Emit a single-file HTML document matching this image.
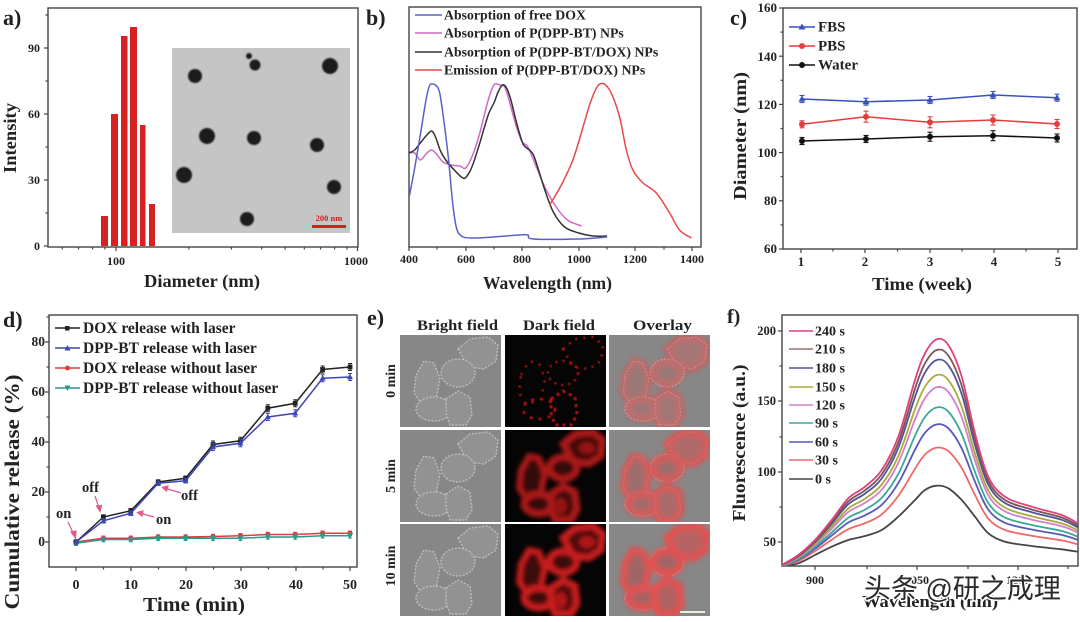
<!DOCTYPE html>
<html><head><meta charset="utf-8">
<style>
html,body{margin:0;padding:0;background:#fff;}
svg{display:block;}
text{font-family:"Liberation Serif",serif;font-weight:bold;fill:#222;}
</style></head><body>
<svg id="s" width="1080" height="622" viewBox="0 0 1080 622" xmlns="http://www.w3.org/2000/svg">
<defs>
<filter id="bl1" x="-20%" y="-20%" width="140%" height="140%"><feGaussianBlur stdDeviation="0.7"/></filter>
<filter id="bl2" x="-20%" y="-20%" width="140%" height="140%"><feGaussianBlur stdDeviation="2"/></filter>
<filter id="bl3" x="-20%" y="-20%" width="140%" height="140%"><feGaussianBlur stdDeviation="0.6"/></filter>
<clipPath id="cpB"><rect x="409" y="7" width="292" height="240"/></clipPath>
<clipPath id="cpF"><rect x="782" y="315" width="296" height="251"/></clipPath>
<clipPath id="cpImg"><rect x="0" y="0" width="101" height="92"/></clipPath>
<g id="cells" fill="#929292" stroke="#bdbdbd" stroke-width="1.4" stroke-dasharray="2 1.5">
  <polygon points="58,14 70,4 88,2 98,10 96,26 84,34 68,32"/>
  <ellipse cx="58" cy="38" rx="17" ry="14"/>
  <polygon points="16,40 24,26 34,28 40,44 36,64 22,70 14,58"/>
  <ellipse cx="34" cy="74" rx="18" ry="12"/>
  <polygon points="46,64 58,56 70,62 72,80 66,90 50,90 46,78"/>
</g>
<g id="redA" fill="none" stroke="#c41818" filter="url(#bl3)">
  <polygon points="58,14 70,4 88,2 98,10 96,26 84,34 68,32" stroke-width="2.5" stroke-dasharray="2 6"/>
  <ellipse cx="58" cy="38" rx="15" ry="12" stroke-width="2.5" stroke-dasharray="2 5"/>
  <polygon points="16,40 24,26 34,28 40,44 36,64 22,70 14,58" stroke-width="2.5" stroke-dasharray="2 7"/>
  <ellipse cx="34" cy="74" rx="16" ry="10" stroke-width="2.5" stroke-dasharray="3 6"/>
  <polygon points="46,64 58,56 70,62 72,80 66,90 50,90 46,78" stroke-width="3" stroke-dasharray="3 4"/>
</g>
<g id="redB" fill="none" stroke="#c81a1a" filter="url(#bl2)">
  <polygon points="58,14 70,4 88,2 98,10 96,26 84,34 68,32" stroke-width="7" fill="#4a0a0a"/>
  <ellipse cx="58" cy="38" rx="14" ry="11" stroke-width="7" fill="#3a0808"/>
  <polygon points="16,40 24,26 34,28 40,44 36,64 22,70 14,58" stroke-width="6" fill="#3a0808"/>
  <ellipse cx="34" cy="74" rx="15" ry="10" stroke-width="7" fill="#3a0808"/>
  <polygon points="46,64 58,56 70,62 72,80 66,90 50,90 46,78" stroke-width="7" fill="#4a0a0a"/>
  <ellipse cx="82" cy="18" rx="8" ry="6" fill="#b01818" stroke="none"/>
  <ellipse cx="56" cy="76" rx="6" ry="8" fill="#b01818" stroke="none"/>
</g>
<g id="redO" fill="none" stroke="#e25050" filter="url(#bl2)">
  <polygon points="58,14 70,4 88,2 98,10 96,26 84,34 68,32" stroke-width="8" fill="#b86060"/>
  <ellipse cx="58" cy="38" rx="14" ry="11" stroke-width="8" fill="#a06464"/>
  <polygon points="16,40 24,26 34,28 40,44 36,64 22,70 14,58" stroke-width="7" fill="#a06464"/>
  <ellipse cx="34" cy="74" rx="15" ry="10" stroke-width="8" fill="#a86060"/>
  <polygon points="46,64 58,56 70,62 72,80 66,90 50,90 46,78" stroke-width="8" fill="#b06060"/>
</g>
</defs>
<rect width="1080" height="622" fill="#fff"/>

<!-- ============ PANEL A ============ -->
<g id="pa">
  <rect x="172" y="48" width="178" height="185" fill="#c5c5c5"/>
  <g fill="#1c1c1c" filter="url(#bl1)">
    <circle cx="195" cy="76" r="7"/>
    <circle cx="255" cy="65" r="5.5"/>
    <circle cx="249" cy="56" r="3"/>
    <circle cx="330" cy="66" r="8"/>
    <circle cx="207" cy="136" r="8"/>
    <circle cx="254" cy="138" r="7"/>
    <circle cx="317" cy="145" r="7"/>
    <circle cx="184" cy="175" r="8"/>
    <circle cx="334" cy="187" r="7"/>
    <circle cx="247" cy="219" r="7"/>
  </g>
  <text x="329" y="221" font-size="8.5" text-anchor="middle" style="fill:#d42020">200 nm</text>
  <rect x="312" y="225" width="34" height="3" fill="#d42020"/>
  <g fill="#d42121">
    <rect x="101" y="216" width="7" height="30"/>
    <rect x="111" y="114" width="7" height="132"/>
    <rect x="121" y="36" width="6.5" height="210"/>
    <rect x="130" y="27" width="7" height="219"/>
    <rect x="140" y="125" width="5.5" height="121"/>
    <rect x="149" y="204" width="6" height="42"/>
  </g>
  <rect x="48" y="8" width="310" height="239" fill="none" stroke="#444" stroke-width="1.4"/>
  <text x="3" y="25" font-size="22">a)</text>
  <g font-size="12" text-anchor="end">
    <text x="40" y="250">0</text><text x="40" y="184">30</text><text x="40" y="118">60</text><text x="40" y="52">90</text>
  </g>
  <text x="116" y="265" font-size="12" text-anchor="middle">100</text>
  <text x="356" y="265" font-size="12" text-anchor="middle">1000</text>
  <text x="202" y="287" font-size="18" text-anchor="middle" textLength="116" lengthAdjust="spacingAndGlyphs">Diameter (nm)</text>
  <text transform="translate(16,138) rotate(-90)" font-size="18" text-anchor="middle" textLength="70" lengthAdjust="spacingAndGlyphs">Intensity</text>
</g>

<!-- ============ PANEL B ============ -->
<g id="pb">
  <rect x="409" y="7" width="292" height="240" fill="none" stroke="#444" stroke-width="1.4"/>
  <text x="366" y="25" font-size="22">b)</text>
  <g font-size="12" text-anchor="middle">
    <text x="409" y="263">400</text><text x="466" y="263">600</text><text x="522" y="263">800</text>
    <text x="579" y="263">1000</text><text x="635" y="263">1200</text><text x="692" y="263">1400</text>
  </g>
  <text x="547.5" y="289" font-size="18" text-anchor="middle" textLength="129" lengthAdjust="spacingAndGlyphs">Wavelength (nm)</text>
  <g stroke-width="1.6">
    <line x1="415" y1="15" x2="442" y2="15" stroke="#5a60c8"/>
    <line x1="415" y1="33" x2="442" y2="33" stroke="#d068c8"/>
    <line x1="415" y1="52" x2="442" y2="52" stroke="#333"/>
    <line x1="415" y1="70" x2="442" y2="70" stroke="#e84848"/>
  </g>
  <g font-size="13.8">
    <text x="444" y="19.5">Absorption of free DOX</text>
    <text x="444" y="37.5">Absorption of P(DPP-BT) NPs</text>
    <text x="444" y="56.5">Absorption of P(DPP-BT/DOX) NPs</text>
    <text x="444" y="74.5">Emission of P(DPP-BT/DOX) NPs</text>
  </g>
</g>

<!-- ============ PANEL C ============ -->
<g id="pc">
  <rect x="783" y="8" width="294" height="241" fill="none" stroke="#444" stroke-width="1.4"/>
  <text x="730" y="25" font-size="22">c)</text>
  <g font-size="13" text-anchor="end">
    <text x="777" y="12">160</text><text x="777" y="61">140</text><text x="777" y="109">120</text>
    <text x="777" y="157">100</text><text x="777" y="205">80</text><text x="777" y="253">60</text>
  </g>
  <g font-size="13" text-anchor="middle">
    <text x="801" y="266">1</text><text x="865" y="266">2</text><text x="930" y="266">3</text><text x="994" y="266">4</text><text x="1058" y="266">5</text>
  </g>
  <text x="922" y="290" font-size="18" text-anchor="middle" textLength="100" lengthAdjust="spacingAndGlyphs">Time (week)</text>
  <text transform="translate(746,136) rotate(-90)" font-size="18" text-anchor="middle" textLength="128" lengthAdjust="spacingAndGlyphs">Diameter (nm)</text>
  <line x1="789" y1="27" x2="815" y2="27" stroke="#3a50c0" stroke-width="1.5"/>
  <polygon points="802,23.5 805.5,29.5 798.5,29.5" fill="#3a50c0"/>
  <line x1="789" y1="46" x2="815" y2="46" stroke="#e83a3a" stroke-width="1.5"/>
  <circle cx="802" cy="46" r="3" fill="#e83a3a"/>
  <line x1="789" y1="65" x2="815" y2="65" stroke="#111" stroke-width="1.5"/>
  <circle cx="802" cy="65" r="3" fill="#111"/>
  <g font-size="15">
    <text x="818" y="31.5">FBS</text><text x="818" y="50.5">PBS</text><text x="818" y="69.5">Water</text>
  </g>
</g>

<!-- ============ PANEL D ============ -->
<g id="pd">
  <rect x="49" y="315" width="308" height="252" fill="none" stroke="#444" stroke-width="1.4"/>
  <text x="3" y="327" font-size="22">d)</text>
  <g font-size="13.5" text-anchor="end">
    <text x="45" y="546">0</text><text x="45" y="496">20</text><text x="45" y="446">40</text><text x="45" y="396">60</text><text x="45" y="346">80</text>
  </g>
  <g font-size="14" text-anchor="middle">
    <text x="76" y="589">0</text><text x="131" y="589">10</text><text x="186" y="589">20</text>
    <text x="241" y="589">30</text><text x="296" y="589">40</text><text x="350" y="589">50</text>
  </g>
  <text x="194" y="611" font-size="20" text-anchor="middle" textLength="102" lengthAdjust="spacingAndGlyphs">Time (min)</text>
  <text transform="translate(19,492) rotate(-90)" font-size="21" text-anchor="middle" textLength="235" lengthAdjust="spacingAndGlyphs">Cumulative release (%)</text>
  <g stroke-width="1.5">
    <line x1="55" y1="328" x2="80" y2="328" stroke="#222"/>
    <line x1="55" y1="348" x2="80" y2="348" stroke="#3c46b4"/>
    <line x1="55" y1="368" x2="80" y2="368" stroke="#e03c3c"/>
    <line x1="55" y1="388" x2="80" y2="388" stroke="#2a9a8a"/>
  </g>
  <rect x="65" y="326" width="4.5" height="4.5" fill="#222"/>
  <polygon points="67.5,345 70.5,350.5 64.5,350.5" fill="#3c46b4"/>
  <circle cx="67.5" cy="368" r="2.5" fill="#e03c3c"/>
  <polygon points="67.5,391 70.5,385.5 64.5,385.5" fill="#2a9a8a"/>
  <g font-size="15.5">
    <text x="83" y="333">DOX release with laser</text>
    <text x="83" y="353">DPP-BT release with laser</text>
    <text x="83" y="373">DOX release without laser</text>
    <text x="83" y="393">DPP-BT release without laser</text>
  </g>
  <g font-size="14.5">
    <text x="56" y="518">on</text>
    <text x="82" y="492">off</text>
    <text x="181" y="500">off</text>
    <text x="156" y="524">on</text>
  </g>
  <g stroke="#e05a8a" stroke-width="1.2" fill="#e05a8a">
    <line x1="68" y1="522" x2="74" y2="535"/><polygon points="75.5,538 71,532 76,531"/>
    <line x1="95" y1="496" x2="99" y2="508"/><polygon points="100,511.5 96.5,506 101.5,505.5"/>
    <line x1="181" y1="493" x2="166" y2="488.5"/><polygon points="162.5,487.5 168,486 166.5,491"/>
    <line x1="154" y1="517" x2="141" y2="513.5"/><polygon points="137.5,512.5 143,511 142,516"/>
  </g>
</g>

<!-- ============ PANEL E ============ -->
<g id="pe">
  <text x="367" y="325" font-size="22">e)</text>
  <g font-size="15" text-anchor="middle">
    <text x="457.5" y="330" textLength="81" lengthAdjust="spacingAndGlyphs">Bright field</text>
    <text x="559" y="330" textLength="72" lengthAdjust="spacingAndGlyphs">Dark field</text>
    <text x="662.5" y="330" textLength="59" lengthAdjust="spacingAndGlyphs">Overlay</text>
  </g>
  <g font-size="14" text-anchor="middle">
    <text transform="translate(395,381) rotate(-90)">0 min</text>
    <text transform="translate(395,476) rotate(-90)">5 min</text>
    <text transform="translate(395,566) rotate(-90)">10 min</text>
  </g>
  <!-- row 1 -->
  <g transform="translate(400,335)" clip-path="url(#cpImg)"><rect width="101" height="92" fill="#878787"/><use href="#cells"/></g>
  <g transform="translate(505,335)" clip-path="url(#cpImg)"><rect width="101" height="92" fill="#050505"/><use href="#redA" opacity="0.9"/></g>
  <g transform="translate(609,335)" clip-path="url(#cpImg)"><rect width="101" height="92" fill="#878787"/><use href="#cells"/><use href="#redO" opacity="0.55"/></g>
  <!-- row 2 -->
  <g transform="translate(400,430)" clip-path="url(#cpImg)"><rect width="101" height="92" fill="#878787"/><use href="#cells"/></g>
  <g transform="translate(505,430)" clip-path="url(#cpImg)"><rect width="101" height="92" fill="#050505"/><use href="#redB" opacity="0.85"/></g>
  <g transform="translate(609,430)" clip-path="url(#cpImg)"><rect width="101" height="92" fill="#878787"/><use href="#cells"/><use href="#redO" opacity="0.8"/></g>
  <!-- row 3 -->
  <g transform="translate(400,524)" clip-path="url(#cpImg)"><rect width="101" height="92" fill="#878787"/><use href="#cells"/></g>
  <g transform="translate(505,524)" clip-path="url(#cpImg)"><rect width="101" height="92" fill="#050505"/><use href="#redB" opacity="1"/></g>
  <g transform="translate(609,524)" clip-path="url(#cpImg)"><rect width="101" height="92" fill="#878787"/><use href="#cells"/><use href="#redO" opacity="0.95"/></g>
  <rect x="680" y="611" width="25" height="2" fill="#e8f0e0"/>
</g>

<!-- ============ PANEL F ============ -->
<g id="pf">
  <rect x="782" y="315" width="296" height="251" fill="none" stroke="#444" stroke-width="1.4"/>
  <text x="727" y="323" font-size="20">f)</text>
  <g font-size="12.5" text-anchor="end">
    <text x="776" y="546">50</text><text x="776" y="476">100</text><text x="776" y="405">150</text><text x="776" y="335">200</text>
  </g>
  <g font-size="12" text-anchor="middle">
    <text x="815" y="584">900</text><text x="917" y="584">1050</text><text x="1018" y="584">1200</text>
  </g>
  <text x="930" y="607" font-size="17" text-anchor="middle" textLength="136" lengthAdjust="spacingAndGlyphs">Wavelength (nm)</text>
  <text transform="translate(745,443) rotate(-90)" font-size="18" text-anchor="middle" textLength="157" lengthAdjust="spacingAndGlyphs">Fluorescence (a.u.)</text>
  <g stroke-width="1.6">
    <line x1="789" y1="331" x2="813" y2="331" stroke="#e2407c"/>
    <line x1="789" y1="349" x2="813" y2="349" stroke="#9a7070"/>
    <line x1="789" y1="368" x2="813" y2="368" stroke="#53539a"/>
    <line x1="789" y1="387" x2="813" y2="387" stroke="#aaaa3a"/>
    <line x1="789" y1="405" x2="813" y2="405" stroke="#d47fcc"/>
    <line x1="789" y1="423" x2="813" y2="423" stroke="#3aa896"/>
    <line x1="789" y1="442" x2="813" y2="442" stroke="#5858bb"/>
    <line x1="789" y1="460" x2="813" y2="460" stroke="#f06868"/>
    <line x1="789" y1="479" x2="813" y2="479" stroke="#454545"/>
  </g>
  <g font-size="14">
    <text x="815" y="335.5">240 s</text><text x="815" y="353.5">210 s</text><text x="815" y="372.5">180 s</text>
    <text x="815" y="391.5">150 s</text><text x="815" y="409.5">120 s</text><text x="815" y="427.5">90 s</text>
    <text x="815" y="446.5">60 s</text><text x="815" y="464.5">30 s</text><text x="815" y="483.5">0 s</text>
  </g>
</g>
<g id="wm"></g>
<text x="864" y="598" font-size="27" style="font-family:'Liberation Sans','Noto Sans CJK SC',sans-serif;font-weight:normal;fill:#2a2a2a;stroke:#fff;stroke-width:3;paint-order:stroke;">头条 @研之成理</text>
</svg>
<script>
(function(){
const NS="http://www.w3.org/2000/svg";
const S=document.getElementById('s');
const WM=document.getElementById('wm');
function el(tag,a,p){const e=document.createElementNS(NS,tag);for(const k in a)e.setAttribute(k,a[k]);if(p)p.appendChild(e);else S.insertBefore(e,WM);return e;}
function ln(x1,y1,x2,y2,c,w,p){return el('line',{x1:x1,y1:y1,x2:x2,y2:y2,stroke:c||'#444','stroke-width':w||1.2},p);}
function smooth(P){let d='M'+P[0][0].toFixed(1)+','+P[0][1].toFixed(1);for(let i=0;i<P.length-1;i++){const p0=P[i-1]||P[i],p1=P[i],p2=P[i+1],p3=P[i+2]||p2;const c1x=p1[0]+(p2[0]-p0[0])/6,c1y=p1[1]+(p2[1]-p0[1])/6,c2x=p2[0]-(p3[0]-p1[0])/6,c2y=p2[1]-(p3[1]-p1[1])/6;d+='C'+c1x.toFixed(1)+','+c1y.toFixed(1)+' '+c2x.toFixed(1)+','+c2y.toFixed(1)+' '+p2[0].toFixed(1)+','+p2[1].toFixed(1);}return d;}
function yt(x,ys,len){ys.forEach(y=>ln(x,y,x-len,y));}
function xt(y,xs,len){xs.forEach(x=>ln(x,y,x,y+len));}

/* ---- Panel A ticks ---- */
yt(48,[246,180,114,48],4); yt(48,[213,147,81,15],2.5);
const lp=v=>116+(Math.log10(v)-2)*242;
xt(247,[lp(100),lp(1000)-0.5],4);
xt(247,[60,70,80,90,200,300,400,500,600,700,800,900].map(lp),2.5);

/* ---- Panel B ---- */
xt(247,[409,466,522,579,635,692],4); xt(247,[437,494,550,607,664],2.5);
const bx=n=>409+(n-400)*0.283;
const gB=el('g',{'clip-path':'url(#cpB)',fill:'none','stroke-width':1.5});
const blue=[[400,198],[420,168],[440,135],[460,100],[472,86],[485,84],[500,87],[510,95],[525,125],[540,160],[555,205],[568,228],[585,236],[620,238],[700,237],[790,235],[820,235],[840,239],[1000,239],[1100,237]];
const pink=[[400,153],[420,153],[440,160],[460,154],[480,150],[500,155],[520,162],[550,165],[580,166],[600,168],[625,155],[650,133],[680,100],[700,85],[720,85],[740,88],[760,107],[780,127],[800,142],[820,147],[850,167],[880,187],[920,207],[960,220],[1000,225],[1010,226]];
const blk=[[400,153],[420,150],[440,143],[460,136],[480,131],[495,138],[510,150],[530,160],[560,170],[590,178],[605,176],[625,165],[650,143],[680,115],[700,103],[715,92],[730,85],[745,88],[760,100],[775,117],[790,133],[805,145],[825,150],[840,155],[860,172],[880,190],[910,212],[950,227],[1000,233],[1050,236],[1100,236]];
const red=[[897,205],[938,185],[979,160],[1015,127],[1044,100],[1074,84],[1109,90],[1144,117],[1168,150],[1191,170],[1227,183],[1274,193],[1321,213],[1356,230],[1398,238]];
[[pink,'#d068c8'],[blk,'#333'],[blue,'#5a60c8'],[red,'#e84848']].forEach(([d,c])=>{el('path',{d:smooth(d.map(p=>[bx(p[0]),p[1]])),stroke:c},gB);});

/* ---- Panel C ---- */
yt(783,[8,56.2,104.4,152.6,200.8,249],4); yt(783,[32.1,80.3,128.5,176.7,224.9],2.5);
xt(249,[801,865,930,994,1058],4); xt(249,[833,897.5,962,1026],2.5);
const cx=[802,866,930,993,1057];
const cser=[
 {y:[141,139,136.7,135.7,138],e:[3.5,3.5,4.5,5,4],c:'#111',m:'c'},
 {y:[124.3,116.7,122.3,120,124],e:[3.5,5.5,5.5,5,4.5],c:'#e83a3a',m:'c'},
 {y:[99,101.7,100,95,97.7],e:[3.5,3.5,3.5,3.5,3.5],c:'#3a50c0',m:'t'}];
cser.forEach(s=>{
  el('polyline',{points:cx.map((x,i)=>x+','+s.y[i]).join(' '),fill:'none',stroke:s.c,'stroke-width':1.5});
  cx.forEach((x,i)=>{const y=s.y[i],e=s.e[i];ln(x,y-e,x,y+e,s.c,1.1);ln(x-2.5,y-e,x+2.5,y-e,s.c,1.1);ln(x-2.5,y+e,x+2.5,y+e,s.c,1.1);
    if(s.m==='c')el('circle',{cx:x,cy:y,r:3,fill:s.c});else el('polygon',{points:`${x},${y-3.5} ${x+3.5},${y+2.5} ${x-3.5},${y+2.5}`,fill:s.c});});
});

/* ---- Panel D ---- */
yt(49,[542,492,442,392,342],4); yt(49,[517,467,417,367,317],2.5);
xt(567,[76,131,186,241,296,350],4); xt(567,[103.5,158.5,213.5,268.5,323],2.5);
const dx=t=>76+t*5.48, dy=v=>542-v*2.5;
const T=[0,5,10,15,20,25,30,35,40,45,50];
const dser=[
 {v:[0,1.5,1.5,2,2,2.2,2.5,3,3,3.5,3.5],c:'#e03c3c',m:'c'},
 {v:[-0.5,1,1,1.5,1.5,1.5,1.5,2,2,2.5,2.5],c:'#2a9a8a',m:'v'},
 {v:[0,10,12.5,24,25.5,39,40.5,53.5,55.5,69,70],c:'#222',m:'s'},
 {v:[0,8.5,11.5,23.5,24.5,38,39.5,50,51.5,65.5,66],c:'#3c46b4',m:'t'}];
dser.forEach(s=>{
  el('polyline',{points:T.map((t,i)=>dx(t)+','+dy(s.v[i])).join(' '),fill:'none',stroke:s.c,'stroke-width':1.5});
  T.forEach((t,i)=>{const x=dx(t),y=dy(s.v[i]);const e=t>=25&&(s.m==='s'||s.m==='t')?3.5:2.2;
    ln(x,y-e,x,y+e,s.c,1);ln(x-2,y-e,x+2,y-e,s.c,1);ln(x-2,y+e,x+2,y+e,s.c,1);
    if(s.m==='c')el('circle',{cx:x,cy:y,r:2.6,fill:s.c});
    else if(s.m==='s')el('rect',{x:x-2.4,y:y-2.4,width:4.8,height:4.8,fill:s.c});
    else if(s.m==='t')el('polygon',{points:`${x},${y-3.2} ${x+3},${y+2.2} ${x-3},${y+2.2}`,fill:s.c});
    else el('polygon',{points:`${x},${y+3.2} ${x+3},${y-2.2} ${x-3},${y-2.2}`,fill:s.c});});
});

/* ---- Panel F ---- */
yt(782,[542,472,401,331],4); yt(782,[507,437,366],2.5);
xt(566,[815,917,1018],4); xt(566,[867,968,1068],3);
const fx=[200,250,300,350,400,450,500,550,600,630,665,700,740,780,820,870,950,1040,1088];
const ft=[795,765,720,660,595,560,510,410,240,160,118,135,230,400,530,590,620,645,670];
const fb=[800,790,765,740,720,708,690,650,600,570,557,565,600,650,700,725,738,748,755];
const fser=[[0,'#454545'],[0.26,'#f06868'],[0.419,'#5858bb'],[0.535,'#3aa896'],[0.672,'#d47fcc'],[0.756,'#aaaa3a'],[0.859,'#53539a'],[0.927,'#7d5656'],[1,'#e2407c']];
const gF=el('g',{'clip-path':'url(#cpF)',fill:'none','stroke-width':1.8});
fser.forEach(([f,c])=>{const P=fx.map((x,i)=>[715+x/3,300+(fb[i]+f*(ft[i]-fb[i]))/3]);el('path',{d:smooth(P),stroke:c},gF);});
})();
</script>
</body></html>
